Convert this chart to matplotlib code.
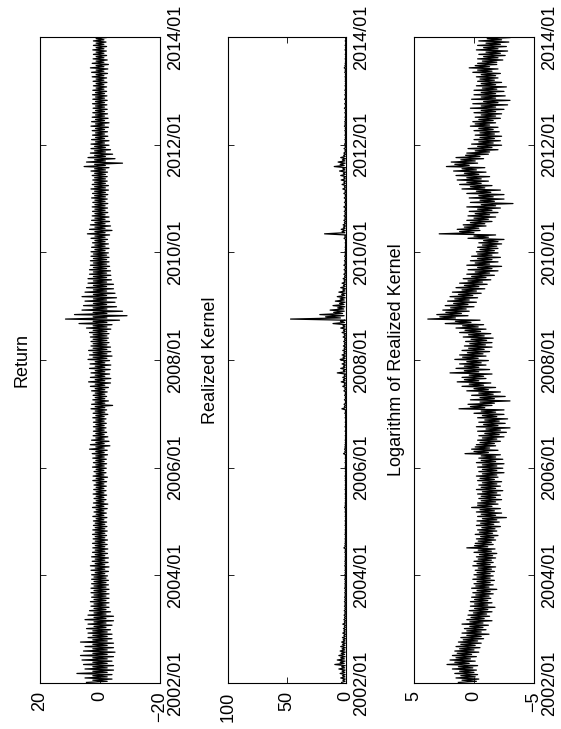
import numpy as np
import matplotlib
matplotlib.use("Agg")
import matplotlib.pyplot as plt
from matplotlib.transforms import offset_copy

plt.rcParams['font.family'] = ['Liberation Sans', 'DejaVu Sans']
plt.rcParams['axes.unicode_minus'] = True

# ---------------- data, Jan 2002 .. Dec 2013 ----------------
# monthly highest / lowest daily return (%)
ret_hi = [
    4.5, 5.0, 7.7, 5.0, 5.5, 6.0, 6.5, 5.5, 5.0, 6.5, 4.0, 4.0,   # 2002
    4.5, 4.0, 5.0, 4.0, 3.5, 3.0, 3.2, 2.8, 3.0, 3.0, 2.8, 2.8,   # 2003
    2.8, 3.0, 3.2, 2.6, 2.8, 2.5, 2.4, 2.5, 2.3, 2.5, 2.4, 2.2,   # 2004
    2.2, 2.4, 2.0, 2.5, 2.2, 2.0, 2.3, 2.1, 2.0, 2.4, 2.3, 2.0,   # 2005
    2.5, 2.2, 2.4, 2.6, 3.5, 3.2, 2.8, 2.3, 2.2, 2.2, 2.2, 2.4,   # 2006
    2.3, 3.0, 2.8, 2.4, 2.3, 2.8, 3.2, 3.8, 3.2, 3.0, 3.5, 3.3,   # 2007
    4.0, 3.5, 3.8, 3.0, 3.0, 3.2, 3.5, 4.5, 7.0, 11.5, 8.5, 6.0,  # 2008
    5.5, 5.0, 6.0, 5.0, 4.5, 4.0, 4.0, 3.5, 3.5, 3.2, 3.2, 3.0,   # 2009
    3.0, 2.8, 2.5, 3.0, 4.2, 3.5, 3.2, 2.8, 2.6, 2.5, 2.6, 2.4,   # 2010
    2.8, 2.5, 3.0, 2.6, 2.4, 2.6, 3.0, 5.3, 4.5, 4.0, 3.2, 3.0,   # 2011
    3.0, 2.8, 2.5, 2.6, 3.0, 2.8, 2.6, 2.4, 2.3, 2.5, 2.4, 2.5,   # 2012
    2.4, 2.2, 2.3, 2.6, 2.8, 3.2, 2.6, 2.3, 2.2, 2.4, 2.2, 2.2,   # 2013
]
ret_lo = [
    -4.0, -4.0, -4.5, -4.5, -4.0, -4.5, -5.0, -4.5, -4.5, -4.0, -4.0, -3.5,
    -4.0, -4.5, -4.5, -3.5, -3.0, -3.0, -3.0, -3.0, -3.0, -2.8, -2.8, -2.5,
    -2.8, -3.0, -2.7, -2.8, -2.5, -2.6, -2.4, -2.5, -2.2, -2.4, -2.3, -2.2,
    -2.3, -2.1, -2.4, -2.6, -2.0, -2.2, -2.0, -2.1, -2.2, -2.5, -2.0, -2.1,
    -2.2, -2.1, -2.5, -2.4, -3.3, -3.0, -2.6, -2.2, -2.0, -2.1, -2.0, -2.6,
    -2.2, -4.2, -2.8, -2.2, -2.4, -2.8, -3.5, -3.6, -3.2, -3.4, -3.6, -3.2,
    -4.0, -3.6, -3.5, -3.0, -2.8, -3.0, -3.6, -4.0, -6.5, -9.0, -7.5, -5.5,
    -5.0, -5.5, -5.0, -4.5, -4.5, -3.8, -3.6, -3.5, -3.2, -3.0, -3.0, -2.8,
    -3.0, -2.8, -2.5, -3.2, -4.0, -3.5, -3.2, -3.0, -2.6, -2.5, -2.6, -2.4,
    -2.6, -2.8, -2.8, -2.4, -2.4, -2.5, -3.0, -7.5, -5.0, -4.2, -3.5, -3.0,
    -3.0, -2.6, -2.5, -2.8, -3.0, -2.7, -2.5, -2.4, -2.3, -2.4, -2.3, -2.2,
    -2.2, -2.3, -2.2, -2.5, -2.6, -2.8, -2.4, -2.2, -2.1, -2.2, -2.0, -2.1,
]
# yearly half-width of the dense core of the return band (2002 .. 2013)
ret_core = [2.4, 2.0, 1.6, 1.3, 1.4, 1.6, 2.3, 2.2, 1.7, 1.8, 1.5, 1.3]

# monthly highest / lowest / typical level of log realized kernel
logrk_hi = [
    1.3, 1.5, 1.6, 1.8, 2.25, 2.0, 1.8, 1.6, 1.5, 1.3, 1.1, 1.0,
    0.8, 1.0, 0.6, 0.5, 0.4, 0.3, 0.3, 0.2, 0.1, 0.2, 0.0, 0.1,
    0.0, -0.1, 0.1, 0.0, -0.2, 0.0, 0.6, -0.1, -0.2, -0.1, -0.3, -0.2,
    -0.25, -0.3, -0.2, 0.2, -0.3, -0.4, -0.3, -0.2, -0.4, -0.3, -0.2, -0.4,
    -0.3, -0.2, -0.4, 0.75, 0.2, -0.2, -0.3, -0.4, -0.3, -0.2, -0.4, -0.3,
    0.0, 1.25, 0.5, 0.3, 0.2, 0.6, 1.0, 1.4, 1.0, 2.0, 1.5, 1.2,
    1.6, 1.2, 1.0, 0.8, 0.7, 0.9, 1.2, 1.5, 2.4, 3.85, 3.1, 2.6,
    2.4, 2.2, 2.0, 1.8, 1.5, 1.2, 0.9, 0.6, 0.5, 0.6, 0.3, 0.2,
    -0.2, -0.3, -0.4, 0.5, 2.9, 1.4, 0.9, 0.6, 0.5, 0.4, 0.6, 0.3,
    0.4, 0.6, 1.0, 1.2, 1.4, 1.5, 1.7, 2.3, 1.9, 1.5, 0.6, 0.5,
    0.2, 0.0, -0.1, 0.0, 0.3, 0.1, -0.1, 0.0, 0.3, 0.1, 0.2, 0.0,
    0.0, -0.2, -0.3, -0.2, 0.1, 0.4, -0.3, -0.3, -0.4, -0.2, -0.3, -0.4,
]
logrk_lo = [
    -0.4, -0.3, -0.2, -0.3, -0.1, -0.2, -0.4, -0.5, -0.6, -0.8, -1.25, -1.0,
    -1.2, -1.5, -1.3, -1.5, -1.75, -1.5, -1.4, -1.6, -1.9, -1.6, -1.7, -1.6,
    -1.7, -1.8, -1.6, -1.8, -1.9, -1.75, -1.6, -1.8, -2.0, -1.9, -2.2, -2.1,
    -2.7, -2.3, -2.2, -2.0, -2.3, -2.2, -2.4, -2.2, -2.3, -2.0, -2.5, -2.4,
    -2.5, -2.4, -2.2, -2.0, -1.8, -2.2, -2.5, -2.7, -3.0, -2.6, -2.8, -2.5,
    -2.5, -1.5, -3.0, -2.6, -2.2, -1.8, -1.4, -1.0, -1.5, -1.3, -1.0, -1.2,
    -1.0, -1.3, -1.5, -1.5, -1.6, -1.4, -1.0, -0.8, -0.5, 0.5, 0.4, 0.0,
    -0.2, -0.3, -0.6, -0.9, -1.1, -1.4, -1.7, -2.0, -2.3, -2.0, -2.2, -2.0,
    -2.0, -2.3, -2.5, -1.8, -0.5, -1.0, -1.5, -1.8, -2.0, -2.2, -3.25, -2.5,
    -2.5, -2.2, -1.5, -1.2, -1.3, -1.0, -0.9, -0.3, -0.8, -1.2, -2.0, -2.3,
    -2.2, -2.3, -2.1, -2.0, -1.8, -2.2, -2.3, -2.5, -2.8, -3.0, -2.6, -2.5,
    -2.7, -2.3, -2.0, -2.2, -2.0, -1.9, -2.4, -2.6, -2.8, -2.7, -2.9, -3.0,
]
logrk_level = [
    0.4, 0.5, 0.6, 0.7, 1.0, 0.9, 0.8, 0.6, 0.5, 0.3, 0.0, 0.0,
    -0.2, -0.2, -0.3, -0.5, -0.6, -0.6, -0.6, -0.7, -0.8, -0.7, -0.8, -0.8,
    -0.8, -0.9, -0.8, -0.9, -1.0, -0.9, -0.6, -0.9, -1.1, -1.0, -1.2, -1.1,
    -1.3, -1.2, -1.1, -0.9, -1.2, -1.2, -1.3, -1.2, -1.3, -1.1, -1.3, -1.3,
    -1.3, -1.2, -1.2, -0.6, -0.7, -1.1, -1.3, -1.5, -1.6, -1.4, -1.5, -1.3,
    -1.2, -0.3, -1.1, -1.1, -1.0, -0.6, -0.2, 0.2, -0.2, 0.2, 0.2, 0.0,
    0.3, -0.1, -0.2, -0.3, -0.4, -0.2, 0.1, 0.3, 0.9, 2.2, 1.7, 1.3,
    1.1, 1.0, 0.7, 0.4, 0.2, -0.1, -0.4, -0.7, -0.9, -0.7, -0.9, -0.9,
    -1.1, -1.3, -1.4, -0.6, 0.6, 0.2, -0.3, -0.6, -0.7, -0.9, -1.2, -1.1,
    -1.0, -0.8, -0.3, 0.0, 0.0, 0.2, 0.4, 1.0, 0.5, 0.1, -0.7, -0.9,
    -1.0, -1.1, -1.1, -1.0, -0.7, -1.0, -1.2, -1.2, -1.2, -1.4, -1.2, -1.2,
    -1.3, -1.2, -1.1, -1.2, -0.9, -0.7, -1.3, -1.4, -1.6, -1.4, -1.6, -1.7,
]
# yearly half-width of the dense core of the log realized kernel band
logrk_core = [0.6, 0.55, 0.55, 0.6, 0.6, 0.6, 0.65, 0.6, 0.6, 0.6, 0.6, 0.6]

titles = ["Return", "Realized Kernel", "Logarithm of Realized Kernel"]
value_ticks = [[20, 0, -20], [100, 50, 0], [5, 0, -5]]
date_ticks = [2002, 2004, 2006, 2008, 2010, 2012, 2014]
date_labels = ["2002/01", "2004/01", "2006/01", "2008/01", "2010/01", "2012/01", "2014/01"]


def build(hi, lo, level, core_yearly):
    """Per month: extreme high, lower core edge, upper core edge, extreme low."""
    hi = np.asarray(hi, float)
    lo = np.asarray(lo, float)
    level = np.asarray(level, float)
    core = np.repeat(np.asarray(core_yearly, float), 12)
    return np.column_stack([hi, level - core, level + core, lo]).ravel()


n_months = len(ret_hi)
t = 2002 + (np.repeat(np.arange(n_months), 4) +
            np.tile([0.125, 0.375, 0.625, 0.875], n_months)) / 12.0

ret_series = build(ret_hi, ret_lo, np.zeros(n_months), ret_core)
logrk_series = build(logrk_hi, logrk_lo, logrk_level, logrk_core)
rk_series = np.exp(logrk_series)          # realized kernel = exp(log realized kernel)
series = [ret_series, rk_series, logrk_series]

# ---------------- figure ----------------
W, H = 561, 729
fig = plt.figure(figsize=(W / 100, H / 100), dpi=100)
panels_px = [(40, 160), (228, 346), (414, 534)]
top_px, bot_px = 37, 683

FS = 13
for i, (x0, x1) in enumerate(panels_px):
    ax = fig.add_axes([x0 / W, (H - bot_px) / H, (x1 - x0) / W, (bot_px - top_px) / H])
    ax.plot(series[i], t, color='black', lw=0.9)
    vt = value_ticks[i]
    ax.set_xlim(vt[0], vt[-1])
    ax.set_ylim(2002, 2014)
    ax.set_xticks(vt)
    ax.set_xticklabels([f"{v}".replace('-', '\u2212') for v in vt])
    ax.set_yticks(date_ticks)
    ax.set_yticklabels(date_labels)
    ax.tick_params(axis='both', direction='in', length=4.5, width=0.6,
                   top=True, bottom=True, left=True, right=True, labelsize=FS)
    ax.tick_params(axis='x', labelrotation=90, pad=6)
    ax.tick_params(axis='y', labelleft=False, labelright=True, labelrotation=90, pad=5)
    for lab in ax.get_yticklabels():
        lab.set_va('center')
        lab.set_ha('left')
    for lab in ax.get_xticklabels():
        lab.set_ha('center')
        lab.set_va('top')
    for sp in ax.spines.values():
        sp.set_linewidth(0.8)
    tr = offset_copy(ax.transAxes, fig=fig, x=-13, y=0, units='dots')
    ax.text(0, 0.5, titles[i], transform=tr, rotation=90, rotation_mode='anchor',
            ha='center', va='baseline', fontsize=FS)

fig.savefig("out.png", dpi=100, facecolor='white')
